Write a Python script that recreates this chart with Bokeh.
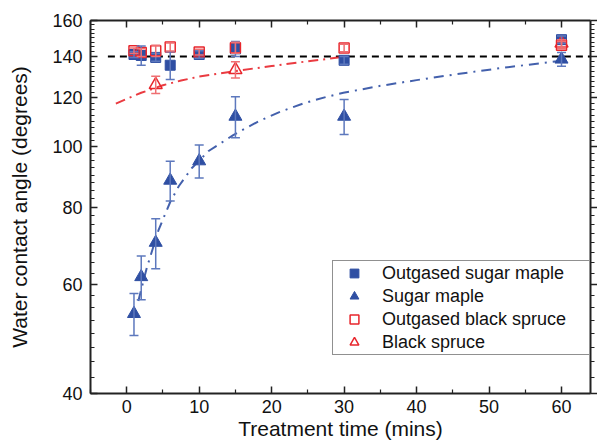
import math
from bokeh.plotting import figure
from bokeh.models import (ColumnDataSource, Range1d, FixedTicker, LinearAxis, LogAxis,
                          NumeralTickFormatter, CustomJSTickFormatter, Whisker, TeeHead,
                          Legend, LegendItem)
from bokeh.embed import file_html
from bokeh.resources import INLINE

# ---- data ----
t = [1, 2, 4, 6, 10, 15, 30, 60]
osm = [141, 140.5, 139.5, 135.5, 141, 144, 138, 149]          # Outgased sugar maple
osm_err = [1.5, 5, 2, 7, 2, 4, 2, 2]
sm = [53.8, 61.7, 70.1, 88.3, 94.9, 112, 112, 138.5]           # Sugar maple
sm_err = [4.2, 5, 6.5, 6.5, 5.8, 8.5, 7.3, 3.5]
obs = [143, 142, 143, 145, 142.3, 144.6, 144.5, 146]           # Outgased black spruce
obs_err = [1.5, 2, 3, 2.2, 1.5, 3, 2, 2]
bs_t = [4, 15, 60]                                              # Black spruce
bs = [126, 133.2, 147]
bs_err = [4, 4, 2]

red_fit_t = [-1.5, 0, 2, 5, 7.5, 10, 15, 20, 25, 30.5]
red_fit_v = [117.5, 119.6, 122.3, 125.8, 128, 129.9, 132.6, 135.1, 137.5, 140]
blue_fit_t = [1.6, 2.8, 4.4, 6, 7.2, 9, 11.3, 14.7, 16.6, 18.4, 21.2, 24.4, 27.6, 29.9, 35, 40, 45, 51.5, 59.7]
blue_fit_v = [56.4, 64, 73.5, 81.5, 86.5, 92.5, 98.5, 104.5, 107.5, 110.3, 114, 117.6, 120.5, 122.3, 125.5, 128.2, 130.8, 134, 137.7]
ref_t = [-2.6, 64]
ref_v = [140, 140]

x_major = [0, 10, 20, 30, 40, 50, 60]
x_minor = [-5, 5, 15, 25, 35, 45, 55]
y_major = [40, 60, 80, 100, 120, 140, 160]
y_minor = [40 + 2.5 * i for i in range(49)]

BLUE = "#2f4fa3"
BLUE_ERR = "#5d78bd"
RED = "#e8262c"
RED_ERR = "#ef6f72"
FONT = "Liberation Sans"

p = figure(width=597, height=443, output_backend="svg", toolbar_location=None,
           x_range=Range1d(-5, 64), y_range=Range1d(40, 160), y_axis_type="log",
           min_border_left=90, min_border_right=7, min_border_top=20, min_border_bottom=50)
p.outline_line_color = None
p.xgrid.visible = False
p.ygrid.visible = False
p.background_fill_color = "white"

def style_axis(ax, labels=True, out=False):
    ax.axis_line_width = 2
    ax.axis_line_color = "#222222"
    ax.major_tick_line_color = "#222222"
    ax.minor_tick_line_color = "#222222"
    ax.major_tick_line_width = 1.5
    ax.minor_tick_line_width = 1.2
    if out:
        ax.major_tick_in, ax.major_tick_out = 0, 7
        ax.minor_tick_in, ax.minor_tick_out = 0, 4
    else:
        ax.major_tick_in, ax.major_tick_out = 7, 0
        ax.minor_tick_in, ax.minor_tick_out = 4, 0
    ax.major_label_text_font = FONT
    if labels:
        ax.major_label_text_font_size = "18px"
        ax.major_label_text_color = "#111111"
    else:
        ax.formatter = CustomJSTickFormatter(code="return '';")
        ax.major_label_text_color = None
        ax.major_label_text_font_size = "6px"
        ax.major_label_standoff = 0

p.xaxis.ticker = FixedTicker(ticks=x_major, minor_ticks=x_minor)
p.yaxis.ticker = FixedTicker(ticks=y_major, minor_ticks=y_minor)
p.yaxis.formatter = NumeralTickFormatter(format="0")
style_axis(p.xaxis[0])
style_axis(p.yaxis[0])
p.xaxis.major_label_standoff = 6
p.yaxis.major_label_standoff = 8

p.xaxis.axis_label = "Treatment time (mins)"
p.xaxis.axis_label_standoff = 1
p.yaxis.axis_label = "Water contact angle (degrees)"
p.yaxis.axis_label_standoff = 18
for ax in (p.xaxis[0], p.yaxis[0]):
    ax.axis_label_text_font = FONT
    ax.axis_label_text_font_size = "21px"
    ax.axis_label_text_font_style = "normal"
    ax.axis_label_text_color = "#111111"

top = LinearAxis(ticker=FixedTicker(ticks=x_major, minor_ticks=x_minor))
style_axis(top, labels=False)
p.add_layout(top, "above")
right = LogAxis(ticker=FixedTicker(ticks=y_major, minor_ticks=y_minor))
style_axis(right, labels=False, out=True)
p.add_layout(right, "right")

# reference line and fits
p.line(ref_t, ref_v, line_color="black", line_width=2, line_dash="7 5")
p.line(red_fit_t, red_fit_v, line_color=RED, line_width=2, line_dash="10 5 2 5", line_alpha=0.9)
p.line(blue_fit_t, blue_fit_v, line_color=BLUE, line_width=2, line_dash="10 6 2 6", line_alpha=0.9)

def errbars(xs, ys, es, color):
    src = ColumnDataSource(dict(x=xs, lo=[y - e for y, e in zip(ys, es)], hi=[y + e for y, e in zip(ys, es)]))
    w = Whisker(base="x", lower="lo", upper="hi", source=src, line_color=color, line_width=1.5,
                upper_head=TeeHead(size=9, line_color=color, line_width=1.5),
                lower_head=TeeHead(size=9, line_color=color, line_width=1.5), level="glyph")
    p.add_layout(w)

errbars(t, sm, sm_err, BLUE_ERR)
errbars(t, osm, osm_err, BLUE_ERR)
errbars(t, obs, obs_err, RED_ERR)
errbars(bs_t, bs, bs_err, RED_ERR)

r_sm = p.scatter(t, sm, marker="triangle", size=13, fill_color=BLUE, line_color=BLUE)
r_osm = p.scatter(t, osm, marker="square", size=10, fill_color=BLUE, line_color=BLUE)
r_bs = p.scatter(bs_t, bs, marker="triangle", size=13, fill_color="white", fill_alpha=0.0,
                 line_color=RED, line_width=1.5)
r_obs = p.scatter(t, obs, marker="square", size=10, fill_color="white", fill_alpha=0.0,
                  line_color=RED, line_width=1.5)

legend = Legend(items=[
    LegendItem(label="Outgased sugar maple", renderers=[r_osm]),
    LegendItem(label="Sugar maple", renderers=[r_sm]),
    LegendItem(label="Outgased black spruce", renderers=[r_obs]),
    LegendItem(label="Black spruce", renderers=[r_bs]),
], location=(242, 38))
legend.label_text_font = FONT
legend.label_text_font_size = "18px"
legend.label_text_color = "#111111"
legend.label_height = 22
legend.glyph_height = 22
legend.glyph_width = 40
legend.label_width = 206
legend.spacing = 1
legend.padding = 1
legend.margin = 0
legend.label_standoff = 8
legend.border_line_color = "#222222"
legend.border_line_width = 1.2
legend.background_fill_color = "white"
legend.background_fill_alpha = 1.0
p.add_layout(legend, "center")

open("out.html", "w").write(file_html(p, INLINE))
